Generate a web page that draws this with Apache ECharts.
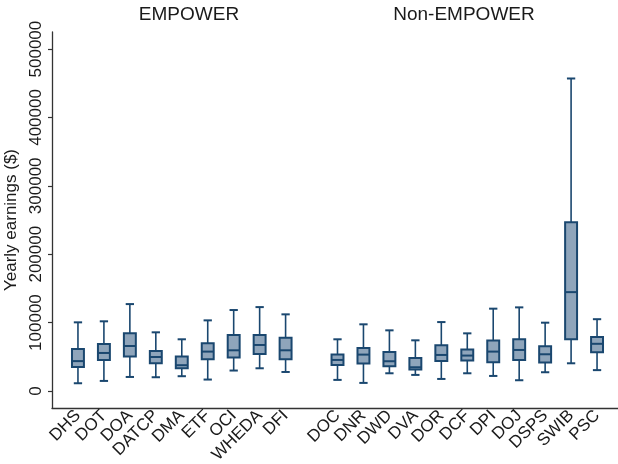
<!DOCTYPE html>
<html>
<head>
<meta charset="utf-8">
<script src="https://cdn.jsdelivr.net/npm/echarts@6/dist/echarts.min.js"></script>
<style>
  html, body { margin: 0; padding: 0; background: #fff; }
  #chart { width: 618px; height: 464px; }
</style>
</head>
<body>
<div id="chart"></div>
<script>
// Departments in each group
const empowerDepts = ['DHS', 'DOT', 'DOA', 'DATCP', 'DMA', 'ETF', 'OCI', 'WHEDA', 'DFI'];
const nonEmpowerDepts = ['DOC', 'DNR', 'DWD', 'DVA', 'DOR', 'DCF', 'DPI', 'DOJ', 'DSPS', 'SWIB', 'PSC'];

// Box statistics (yearly earnings, $): lower whisker, Q1, median, Q3, upper whisker
const empowerLow    = [11200, 14600, 20400, 20000, 21500, 16600, 29800, 33100, 27700];
const empowerQ1     = [35000, 45300, 50200, 40400, 33100, 46300, 48700, 54000, 46300];
const empowerMedian = [43600, 55500, 65700, 49600, 37600, 57500, 59400, 67200, 59400];
const empowerQ3     = [61300, 68600, 84200, 58400, 50400, 69600, 81800, 81800, 77900];
const empowerHigh   = [100300, 101800, 127000, 85700, 75500, 103200, 118300, 122600, 112000];

const nonEmpowerLow    = [16100, 11700, 25800, 23400, 17500, 25800, 21900, 15600, 27300, 40400, 30400];
const nonEmpowerQ1     = [38000, 40000, 36100, 31200, 43800, 44400, 41900, 45300, 41500, 75500, 56700];
const nonEmpowerMedian = [45300, 53100, 43400, 34600, 52600, 51700, 57500, 59900, 53600, 144500, 68900];
const nonEmpowerQ3     = [53100, 62800, 56900, 48200, 66700, 60400, 73600, 75500, 65300, 246700, 78800];
const nonEmpowerHigh   = [75500, 97400, 88600, 74000, 100700, 84200, 120300, 122200, 99800, 457000, 104900];

const yTicks = [0, 100000, 200000, 300000, 400000, 500000];

// One shared category axis: blank slots pad the ends and separate the two groups
const categories = [''].concat(empowerDepts, [''], nonEmpowerDepts, ['']);

function boxRows(depts, offset, lo, q1, md, q3, hi) {
  return depts.map((d, i) => [offset + i, lo[i], q1[i], md[i], q3[i], hi[i]]);
}
const boxData = boxRows(empowerDepts, 1, empowerLow, empowerQ1, empowerMedian, empowerQ3, empowerHigh)
  .concat(boxRows(nonEmpowerDepts, empowerDepts.length + 2, nonEmpowerLow, nonEmpowerQ1, nonEmpowerMedian, nonEmpowerQ3, nonEmpowerHigh));

const navy = '#1a476f';
const fillColor = '#8fa5bb';

function renderBox(params, api) {
  const x = api.value(0);
  const lo = api.coord([x, api.value(1)]);
  const q1 = api.coord([x, api.value(2)]);
  const md = api.coord([x, api.value(3)]);
  const q3 = api.coord([x, api.value(4)]);
  const hi = api.coord([x, api.value(5)]);
  const band = api.size([1, 0])[0];
  const boxW = band * 0.46;
  const capW = band * 0.32;
  const cx = md[0];
  const wStyle = { stroke: navy, lineWidth: 1.6 };
  return {
    type: 'group',
    children: [
      { type: 'line', shape: { x1: cx, y1: q3[1], x2: cx, y2: hi[1] }, style: wStyle },
      { type: 'line', shape: { x1: cx, y1: q1[1], x2: cx, y2: lo[1] }, style: wStyle },
      { type: 'line', shape: { x1: cx - capW / 2, y1: hi[1], x2: cx + capW / 2, y2: hi[1] }, style: { stroke: navy, lineWidth: 2 } },
      { type: 'line', shape: { x1: cx - capW / 2, y1: lo[1], x2: cx + capW / 2, y2: lo[1] }, style: { stroke: navy, lineWidth: 2 } },
      { type: 'rect', shape: { x: cx - boxW / 2, y: q3[1], width: boxW, height: q1[1] - q3[1] },
        style: { fill: fillColor, stroke: navy, lineWidth: 2 } },
      { type: 'line', shape: { x1: cx - boxW / 2, y1: md[1], x2: cx + boxW / 2, y2: md[1] }, style: { stroke: navy, lineWidth: 2 } }
    ]
  };
}

const chart = echarts.init(document.getElementById('chart'), null, { renderer: 'canvas' });
const textColor = '#1a1a1a';
const font = 'Liberation Sans, Arial, Helvetica, sans-serif';

chart.setOption({
  animation: false,
  backgroundColor: '#ffffff',
  grid: { left: 52, right: -5, top: 32, bottom: 56, containLabel: false, outerBoundsMode: 'none' },
  graphic: [
    { type: 'text', x: 189, y: 5, style: { text: 'EMPOWER', fontSize: 19, fontFamily: font, fill: textColor, textAlign: 'center' } },
    { type: 'text', x: 464, y: 5, style: { text: 'Non-EMPOWER', fontSize: 19, fontFamily: font, fill: textColor, textAlign: 'center' } }
  ],
  xAxis: {
    type: 'category',
    data: categories,
    boundaryGap: false,
    axisLine: { onZero: false, lineStyle: { color: '#333', width: 1.3 } },
    axisTick: { show: false },
    splitLine: { show: false },
    axisLabel: { interval: 0, rotate: 45, fontSize: 17, fontFamily: font, color: textColor, margin: 5 }
  },
  yAxis: {
    type: 'value',
    min: -25000,
    max: 525000,
    name: 'Yearly earnings ($)',
    nameLocation: 'middle',
    nameRotate: 90,
    nameGap: 27,
    nameTextStyle: { fontSize: 17, fontFamily: font, color: textColor },
    axisLine: { show: true, lineStyle: { color: '#333', width: 1.3 } },
    axisTick: { show: true, length: 4, customValues: yTicks, lineStyle: { color: '#333', width: 1.2 } },
    splitLine: { show: false },
    axisLabel: {
      rotate: 90, fontSize: 17, fontFamily: font, color: textColor, margin: 7,
      customValues: yTicks,
      formatter: v => String(v)
    }
  },
  series: [{
    type: 'custom',
    renderItem: renderBox,
    data: boxData,
    encode: { x: 0, y: [1, 2, 3, 4, 5] },
    clip: false
  }]
});
</script>
</body>
</html>
